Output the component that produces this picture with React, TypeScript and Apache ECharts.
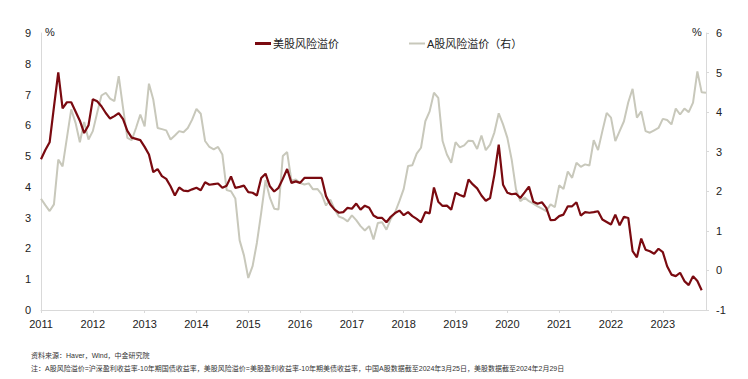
import React, { useEffect, useRef } from "react";
import * as echarts from "echarts";

const yearLabels = ["2011","2012","2013","2014","2015","2016","2017","2018","2019","2020","2021","2022","2023"];
const monthsShown = 155; // monthly categories starting 2011-01

const usERP = [
  4.9,5.2,5.45,6.6,7.72,6.55,6.75,6.75,6.45,6.15,5.75,6.0,
  6.85,6.78,6.62,6.4,6.22,6.3,6.4,6.2,5.82,5.6,5.56,5.52,
  5.3,5.05,4.48,4.58,4.35,4.26,4.02,3.72,3.98,3.88,3.86,3.92,
  3.97,3.89,4.15,4.07,4.09,4.11,3.97,4.04,4.34,3.97,4.0,4.04,
  3.83,3.81,3.72,4.29,4.43,4.02,3.85,3.97,4.26,4.58,4.13,4.18,
  4.13,4.29,4.29,4.29,4.29,4.29,3.7,3.43,3.26,3.16,3.18,3.32,
  3.29,3.46,3.26,3.39,3.32,3.07,2.99,2.99,2.85,3.03,3.15,3.23,
  3.08,3.18,3.05,2.96,2.85,3.18,3.14,3.98,3.52,3.38,3.39,3.26,
  3.81,3.74,3.68,4.24,4.08,3.95,3.72,3.55,3.64,4.4,5.37,4.07,
  3.81,3.76,3.78,3.64,3.82,4.01,3.52,3.45,3.5,3.32,2.92,2.93,
  3.05,3.1,3.37,3.37,3.5,3.07,3.18,3.16,3.18,3.21,2.94,2.86,
  2.78,3.1,2.75,3.03,2.99,1.91,1.71,2.32,1.96,1.91,1.83,1.99,
  1.88,1.42,1.15,1.1,1.21,0.94,0.81,1.1,0.94,0.64
];

const aERP = [
  1.81,1.65,1.5,1.67,2.8,2.63,3.35,4.07,3.73,3.24,3.75,3.31,
  3.52,3.98,4.42,4.49,4.34,4.28,4.91,4.11,3.35,3.29,3.6,3.94,
  3.64,4.72,4.32,3.6,3.57,3.54,3.31,3.41,3.52,3.49,3.6,3.81,
  4.08,3.96,3.27,3.12,3.06,3.12,2.93,2.03,2.0,1.82,0.76,0.38,
  -0.19,0.11,0.7,1.46,2.28,1.84,1.56,1.54,2.89,2.99,2.26,2.3,
  2.21,2.17,2.2,2.05,2.06,1.92,1.64,1.79,1.54,1.36,1.32,1.24,
  1.39,1.27,1.12,1.01,1.12,0.78,1.2,1.22,1.03,1.3,1.47,1.75,
  2.06,2.64,2.66,2.95,3.1,3.77,4.02,4.49,4.36,3.27,2.93,2.72,
  3.24,3.11,3.16,3.28,3.27,3.07,3.41,3.04,3.18,3.49,3.97,3.69,
  3.35,2.8,2.05,1.75,1.84,1.75,1.69,1.62,1.56,1.5,1.67,1.6,
  2.15,2.06,2.5,2.34,2.72,2.62,2.68,2.65,3.29,3.04,3.52,3.98,
  3.86,3.27,3.52,3.77,4.25,4.59,3.86,4.02,3.52,3.48,3.54,3.6,
  3.83,3.8,3.69,4.09,3.94,4.09,4.0,4.24,5.03,4.5,4.49
];

const seriesNames = ["美股风险溢价", "A股风险溢价（右）"];
const sourceNote = "资料来源：Haver，Wind，中金研究院";
const footNote = "注：A股风险溢价=沪深盈利收益率-10年期国债收益率，美股风险溢价=美股盈利收益率-10年期美债收益率，中国A股数据截至2024年3月25日，美股数据截至2024年2月29日";

const categories: string[] = [];
for (let i = 0; i < monthsShown; i++) {
  const y = 2011 + Math.floor(i / 12);
  const m = (i % 12) + 1;
  categories.push(`${y}-${m < 10 ? "0" + m : m}`);
}

const FONT = "Liberation Sans, Arial, Noto Sans CJK SC, sans-serif";
const RED = "#7a0a10";
const GRAY = "#c8c8bb";
const AXIS = "#d9d9d9";
const TEXT = "#222222";

export default function App() {
  const ref = useRef<HTMLDivElement>(null);
  useEffect(() => {
    if (!ref.current) return;
    const chart = echarts.init(ref.current, undefined, { renderer: "svg" });
    chart.setOption({
      animation: false,
      backgroundColor: "#ffffff",
      textStyle: { fontFamily: FONT },
      grid: { left: 41, right: 42, top: 33, bottom: 69 },
      legend: [
        {
          left: 250, top: 33, itemWidth: 16, itemHeight: 3, itemGap: 0,
          icon: "rect", data: [seriesNames[0]],
          textStyle: { fontSize: 11, color: TEXT, fontFamily: FONT, padding: [0, 0, 0, -3] },
        },
        {
          left: 404, top: 33, itemWidth: 16, itemHeight: 2, itemGap: 0,
          icon: "rect", data: [seriesNames[1]],
          textStyle: { fontSize: 11, color: TEXT, fontFamily: FONT, padding: [0, 0, 0, -3] },
        },
      ],
      xAxis: {
        type: "category",
        data: categories,
        boundaryGap: false,
        axisLine: { show: true, lineStyle: { color: AXIS, width: 1 } },
        axisTick: { show: true, interval: 11, length: 3, lineStyle: { color: AXIS } },
        axisLabel: {
          interval: 11, margin: 8, fontSize: 11, color: TEXT, fontFamily: FONT,
          formatter: (v: string) => v.slice(0, 4),
        },
        splitLine: { show: false },
      },
      yAxis: [
        {
          type: "value", min: 0, max: 9, interval: 1, position: "left",
          axisLine: { show: true, lineStyle: { color: AXIS } },
          axisTick: { show: false },
          axisLabel: { fontSize: 11, color: TEXT, margin: 10, fontFamily: FONT },
          splitLine: { show: false },
        },
        {
          type: "value", min: -1, max: 6, interval: 1, position: "right",
          axisLine: { show: true, lineStyle: { color: AXIS } },
          axisTick: { show: true, length: 3, lineStyle: { color: AXIS } },
          axisLabel: { fontSize: 11, color: TEXT, margin: 10, fontFamily: FONT },
          splitLine: { show: false },
        },
      ],
      series: [
        {
          name: seriesNames[1], type: "line", yAxisIndex: 1, data: aERP,
          showSymbol: false, symbol: "none", lineStyle: { color: GRAY, width: 2 },
          itemStyle: { color: GRAY }, z: 2,
        },
        {
          name: seriesNames[0], type: "line", yAxisIndex: 0, data: usERP,
          showSymbol: false, symbol: "none", lineStyle: { color: RED, width: 2.2 },
          itemStyle: { color: RED }, z: 3,
        },
      ],
      graphic: [
        { type: "text", left: 45, top: 26, style: { text: "%", fontSize: 11, fill: TEXT, fontFamily: FONT } },
        { type: "text", left: 692, top: 26, style: { text: "%", fontSize: 11, fill: TEXT, fontFamily: FONT } },
        { type: "text", left: 31, top: 352, style: { text: sourceNote, fontSize: 7, fill: "#333333", fontFamily: FONT } },
        { type: "text", left: 31, top: 365, style: { text: footNote, fontSize: 7, fill: "#333333", fontFamily: FONT } },
      ],
    });
    return () => chart.dispose();
  }, []);
  return (
    <div
      ref={ref}
      style={{ position: "fixed", left: 0, top: 0, width: 748, height: 379, background: "#fff" }}
    />
  );
}
